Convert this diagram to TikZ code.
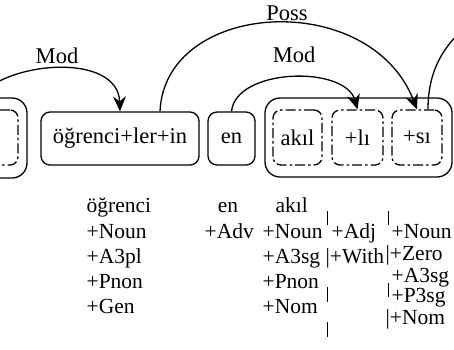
\documentclass[tikz,border=0pt]{standalone}
\usepackage{fontspec}
\setmainfont{Liberation Serif}
\usetikzlibrary{arrows.meta}
\begin{document}
\begin{tikzpicture}[x=1pt,y=-1pt,line width=1.3pt,
  wordbox/.style={draw,rounded corners=9pt,minimum height=53pt,inner sep=0pt,
    font=\fontsize{22.5}{27}\selectfont},
  groupbox/.style={draw,rounded corners=15pt,inner sep=0pt},
  morphbox/.style={draw,rounded corners=8pt,minimum height=55pt,inner sep=0pt,
    dash pattern=on 10pt off 3pt on 2.5pt off 3pt,
    font=\fontsize{22.5}{27}\selectfont},
  dep/.style={-{Stealth[length=15pt,width=13pt,inset=5pt]}},
  rel/.style={font=\fontsize{22.5}{27}\selectfont,inner sep=0pt},
  ana/.style={anchor=base west,inner sep=0pt,font=\fontsize{21.5}{25}\selectfont},
  sep/.style={line width=1pt}]
\useasboundingbox (0,0) rectangle (454,349);
\clip (0,0) rectangle (454,349);

% previous word group, only its right end is in view
\node[groupbox,minimum width=120pt,minimum height=80pt] (g0) at (-33,138) {};
\node[morphbox,minimum width=50pt] (m0) at (-7,137.5) {};

% words
\node[wordbox,minimum width=158pt] (w1) at (120,138.5) {öğrenci+ler+in};
\node[wordbox,minimum width=47pt] (w2) at (231.5,138.5) {en};
\node[groupbox,minimum width=187pt,minimum height=79pt] (g3) at (358.5,137.5) {};
\node[morphbox,minimum width=49pt] (ak) at (297.5,137.5) {akıl};
\node[morphbox,minimum width=51pt] (li) at (357.5,137.5) {+lı};
\node[morphbox,minimum width=50pt] (si) at (417,137.5) {+sı};

% dependency arcs
\coordinate (lm) at (-25,100);
\coordinate (rp) at (475,20);
\draw[dep] (lm) .. controls (5,60) and (118,52) .. (w1.north);
\draw[dep] ([xshift=40pt]w1.north) .. controls (165,0) and (370,-12) .. (si.north);
\draw[dep] (w2.north) .. controls (236,68) and (345,65) .. (li.north);
\draw ([xshift=11pt]si.north) .. controls (428,75) and (440,45) .. (rp);

% arc labels
\node[rel] (l1) at (57,56) {Mod};
\node[rel] (l2) at (287,13) {Poss};
\node[rel] (l3) at (294,55) {Mod};

% morphological analyses
\node[ana] (a1) at (86,212) {öğrenci};
\node[ana] (a2) at (86,238) {+Noun};
\node[ana] (a3) at (86,263) {+A3pl};
\node[ana] (a4) at (86,288) {+Pnon};
\node[ana] (a5) at (86,313) {+Gen};

\node[ana,anchor=base] (b1) at (228,212) {en};
\node[ana] (b2) at (204,238) {+Adv};

\node[ana] (c1) at (275,212) {akıl};
\node[ana] (c2) at (262,238) {+Noun};
\node[ana] (c3) at (262,263) {+A3sg};
\node[ana] (c4) at (262,288) {+Pnon};
\node[ana] (c5) at (262,313) {+Nom};

\node[ana] (d1) at (331,238) {+Adj};
\node[ana] (d2) at (325,263) {|+With};

\node[ana] (e1) at (391,238) {+Noun};
\node[ana] (e2) at (385,260) {|+Zero};
\node[ana] (e3) at (391,282) {+A3sg};
\node[ana] (e4) at (391,302) {+P3sg};
\node[ana] (e5) at (385,324) {|+Nom};

% boundary marks between inflectional groups
\draw[sep] (327,211) -- (327,225);
\draw[sep] (327,287) -- (327,302);
\draw[sep] (327,322) -- (327,337);
\draw[sep] (388,211) -- (388,225);
\draw[sep] (388,283) -- (388,297);
\end{tikzpicture}
\end{document}
